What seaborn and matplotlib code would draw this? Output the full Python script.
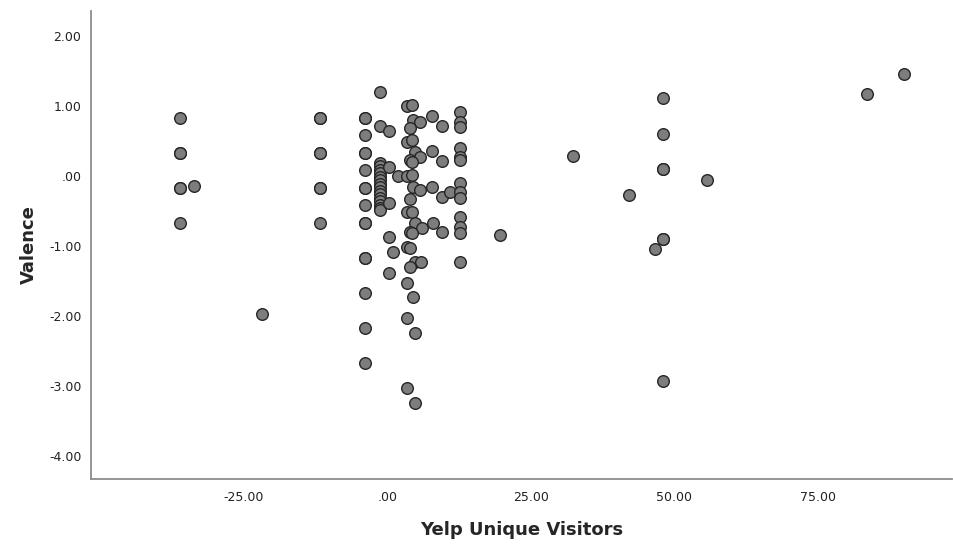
import matplotlib
matplotlib.use("Agg")
import matplotlib.pyplot as plt
import seaborn as sns
import pandas as pd

sns.set_style("white")
plt.rcParams["font.family"] = ["DejaVu Sans"]

# Yelp unique visitors (x) and valence (y)
visitors = [
    # far left group
    -36.1, -36.1, -36.1, -36.1, -36.1, -36.1, -33.7, -21.8,
    # column near -12
    -11.7, -11.7, -11.7, -11.7, -11.7, -11.7, -11.7,
    # column near -4
    -3.9, -3.9, -3.9, -3.9, -3.9, -3.9, -3.9, -3.9, -3.9, -3.9, -3.9,
    -3.9, -3.9, -3.9, -3.9, -3.9,
    # dense stack near -1
    -1.3, -1.3, -1.3, -1.3, -1.3, -1.3, -1.3, -1.3, -1.3, -1.3, -1.3,
    -1.3, -1.3, -1.3, -1.3,
    # around zero
    -1.3, -1.3, 0.3, 0.3, 1.9, 0.3, 0.3, 1.0, 0.3,
    # columns between 3 and 13
    3.4, 4.3, 4.5, 5.7, 3.9, 7.8, 9.5, 12.7, 12.7, 12.7,
    3.4, 4.3, 4.8, 5.7, 3.9, 4.3, 7.8, 9.5, 12.7, 12.7, 12.7,
    3.4, 4.3, 4.5, 5.7, 3.9, 7.8, 9.5, 10.9, 12.7, 12.7, 12.7,
    3.4, 4.3, 4.8, 6.0, 3.9, 4.3, 8.0, 9.5, 12.7, 12.7, 12.7,
    3.4, 3.9, 4.8, 5.9, 3.9, 12.7, 3.4, 4.5, 3.4, 4.8, 3.4, 4.8,
    # right side
    19.6, 32.4, 42.1, 46.6, 48.0, 48.0, 48.0, 48.0, 48.0, 48.0, 48.0,
    55.7, 83.6, 90.0,
]

valence = [
    0.83, 0.33, 0.33, -0.17, -0.17, -0.67, -0.14, -1.97,
    0.83, 0.83, 0.33, 0.33, -0.17, -0.17, -0.67,
    0.83, 0.83, 0.58, 0.33, 0.33, 0.08, -0.17, -0.17, -0.42, -0.67,
    -0.67, -1.17, -1.17, -1.67, -2.17, -2.67,
    0.19, 0.14, 0.09, 0.04, -0.01, -0.06, -0.11, -0.16, -0.21, -0.26,
    -0.31, -0.36, -0.41, -0.46, -0.49,
    1.20, 0.71, 0.64, 0.13, 0.00, -0.39, -0.87, -1.09, -1.39,
    1.00, 1.01, 0.80, 0.77, 0.69, 0.86, 0.71, 0.91, 0.77, 0.70,
    0.49, 0.51, 0.34, 0.27, 0.23, 0.20, 0.36, 0.21, 0.40, 0.27, 0.23,
    0.00, 0.01, -0.16, -0.20, -0.33, -0.16, -0.30, -0.23, -0.10, -0.23, -0.31,
    -0.51, -0.51, -0.67, -0.74, -0.80, -0.81, -0.67, -0.80, -0.59, -0.73, -0.81,
    -1.01, -1.03, -1.23, -1.23, -1.30, -1.23, -1.53, -1.73, -2.03, -2.24,
    -3.03, -3.24,
    -0.84, 0.29, -0.27, -1.04, 1.11, 0.60, 0.10, 0.10, -0.90, -0.90, -2.93,
    -0.06, 1.17, 1.46,
]

x_ticks = [-25, 0, 25, 50, 75]
x_tick_labels = ["-25.00", ".00", "25.00", "50.00", "75.00"]
y_ticks = [2, 1, 0, -1, -2, -3, -4]
y_tick_labels = ["2.00", "1.00", ".00", "-1.00", "-2.00", "-3.00", "-4.00"]

df = pd.DataFrame({"Yelp Unique Visitors": visitors, "Valence": valence})

fig = plt.figure(figsize=(9.54, 5.44), dpi=100)
ax = fig.add_axes([0.0954, 0.1195, 0.9026, 0.8605])

sns.scatterplot(data=df, x="Yelp Unique Visitors", y="Valence", ax=ax,
                color="#7d7d7d", edgecolor="#262626", linewidth=1.0, s=70)

ax.set_xlim(-51.6, 98.4)
ax.set_ylim(-4.33, 2.36)
ax.set_xticks(x_ticks)
ax.set_xticklabels(x_tick_labels)
ax.set_yticks(y_ticks)
ax.set_yticklabels(y_tick_labels)
ax.tick_params(length=0, labelsize=9, colors="#222222")
ax.tick_params(axis="x", pad=9)
ax.tick_params(axis="y", pad=7)

for side in ["top", "right"]:
    ax.spines[side].set_visible(False)
for side in ["left", "bottom"]:
    ax.spines[side].set_color("#8c8c8c")
    ax.spines[side].set_linewidth(1.3)

ax.set_xlabel("Yelp Unique Visitors", fontsize=13, fontweight="bold", labelpad=12)
ax.set_ylabel("Valence", fontsize=13, fontweight="bold", labelpad=8)

fig.savefig("out.png", dpi=100)
